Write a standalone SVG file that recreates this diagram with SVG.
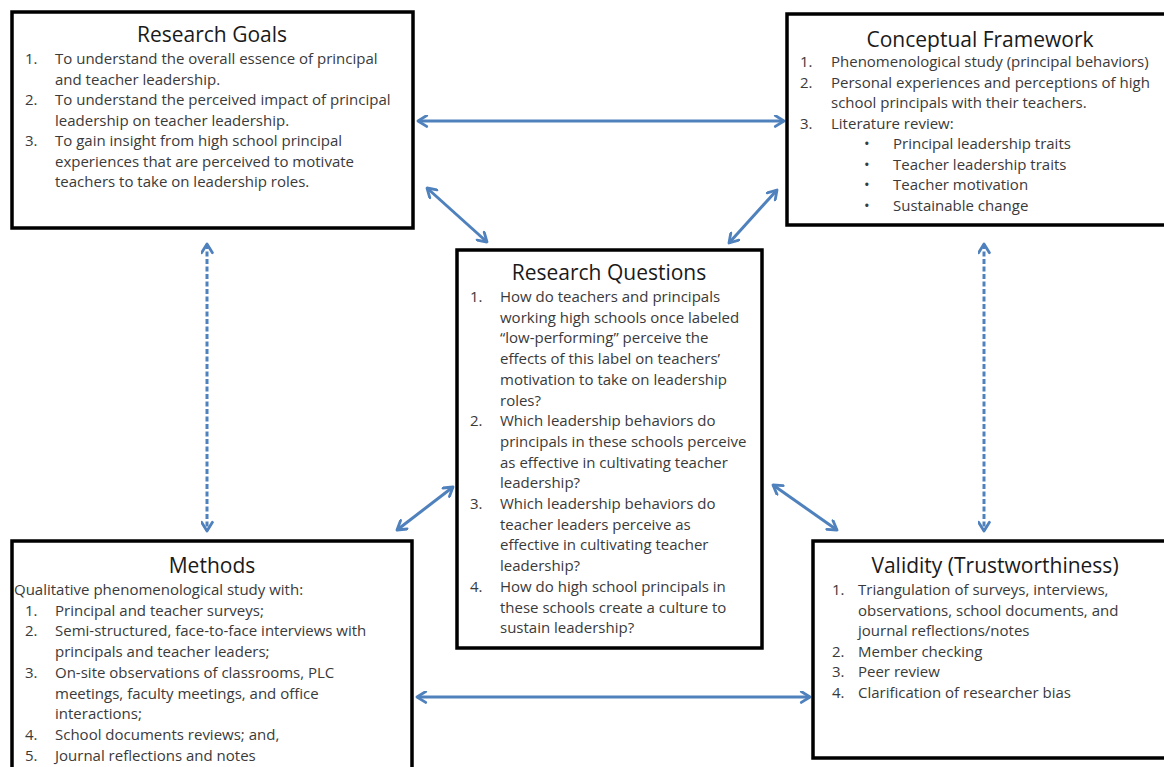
<svg xmlns="http://www.w3.org/2000/svg" width="1164" height="767" viewBox="0 0 1164 767">
<style>
.box{fill:#fff;stroke:#000;stroke-width:3.5}
.title{font-family:"Open Sans","Liberation Sans",sans-serif;font-size:21px;fill:#1a1a1a;text-anchor:middle}
.t{font-family:"Open Sans","Liberation Sans",sans-serif;font-size:15px;fill:#3a3a3a}
.conn{stroke:#4f81bd;stroke-width:3;fill:none;marker-start:url(#ah);marker-end:url(#ah)}
.dash{stroke-dasharray:5 2.5}
</style>
<defs>
<marker id="ah" viewBox="0 0 12 12" refX="10" refY="6" markerWidth="13" markerHeight="13" markerUnits="userSpaceOnUse" orient="auto-start-reverse">
<path d="M2,1 L10,6 L2,11" fill="none" stroke="#4f81bd" stroke-width="2.6" stroke-linecap="round" stroke-linejoin="round"/>
</marker>
</defs>
<rect width="1164" height="767" fill="#fff"/>

<g id="connectors">
<line class="conn" x1="418" y1="121" x2="784" y2="121"/>
<line class="conn" x1="427" y1="188" x2="487" y2="242"/>
<line class="conn" x1="777" y1="190" x2="729" y2="243"/>
<line class="conn" x1="397" y1="530" x2="453" y2="487"/>
<line class="conn" x1="773" y1="485" x2="837" y2="530"/>
<line class="conn dash" x1="207" y1="244" x2="207" y2="531"/>
<line class="conn dash" x1="984" y1="244" x2="984" y2="531"/>
<line class="conn" x1="417" y1="697" x2="810" y2="697"/>
</g>

<g id="research-goals">
<rect class="box" x="12" y="12" width="401" height="216"/>
<text class="title" x="212" y="42">Research Goals</text>
<text class="t" x="25" y="64">1.</text><text class="t" x="55" y="64">To understand the overall essence of principal</text>
<text class="t" x="55" y="84.5">and teacher leadership.</text>
<text class="t" x="25" y="105">2.</text><text class="t" x="55" y="105">To understand the perceived impact of principal</text>
<text class="t" x="55" y="125.5">leadership on teacher leadership.</text>
<text class="t" x="25" y="146">3.</text><text class="t" x="55" y="146">To gain insight from high school principal</text>
<text class="t" x="55" y="166.5">experiences that are perceived to motivate</text>
<text class="t" x="55" y="187">teachers to take on leadership roles.</text>
</g>

<g id="conceptual-framework">
<rect class="box" x="787" y="14" width="390" height="211"/>
<text class="title" x="980" y="47">Conceptual Framework</text>
<text class="t" x="800" y="67">1.</text><text class="t" x="831" y="67">Phenomenological study (principal behaviors)</text>
<text class="t" x="800" y="87.5">2.</text><text class="t" x="831" y="87.5">Personal experiences and perceptions of high</text>
<text class="t" x="831" y="108">school principals with their teachers.</text>
<text class="t" x="800" y="128.5">3.</text><text class="t" x="831" y="128.5">Literature review:</text>
<text class="t" x="864" y="149">•</text><text class="t" x="893" y="149">Principal leadership traits</text>
<text class="t" x="864" y="169.5">•</text><text class="t" x="893" y="169.5">Teacher leadership traits</text>
<text class="t" x="864" y="190">•</text><text class="t" x="893" y="190">Teacher motivation</text>
<text class="t" x="864" y="210.5">•</text><text class="t" x="893" y="210.5">Sustainable change</text>
</g>

<g id="research-questions">
<rect class="box" x="457" y="250" width="305" height="398"/>
<text class="title" x="609" y="280">Research Questions</text>
<text class="t" x="470" y="302">1.</text><text class="t" x="500" y="302">How do teachers and principals</text>
<text class="t" x="500" y="322.7">working high schools once labeled</text>
<text class="t" x="500" y="343.4">“low-performing” perceive the</text>
<text class="t" x="500" y="364.1">effects of this label on teachers’</text>
<text class="t" x="500" y="384.8">motivation to take on leadership</text>
<text class="t" x="500" y="405.5">roles?</text>
<text class="t" x="470" y="426.2">2.</text><text class="t" x="500" y="426.2">Which leadership behaviors do</text>
<text class="t" x="500" y="446.9">principals in these schools perceive</text>
<text class="t" x="500" y="467.6">as effective in cultivating teacher</text>
<text class="t" x="500" y="488.3">leadership?</text>
<text class="t" x="470" y="509">3.</text><text class="t" x="500" y="509">Which leadership behaviors do</text>
<text class="t" x="500" y="529.7">teacher leaders perceive as</text>
<text class="t" x="500" y="550.4">effective in cultivating teacher</text>
<text class="t" x="500" y="571.1">leadership?</text>
<text class="t" x="470" y="591.8">4.</text><text class="t" x="500" y="591.8">How do high school principals in</text>
<text class="t" x="500" y="612.5">these schools create a culture to</text>
<text class="t" x="500" y="633.2">sustain leadership?</text>
</g>

<g id="methods">
<rect class="box" x="12" y="541" width="400" height="240"/>
<text class="title" x="212" y="573">Methods</text>
<text class="t" x="14" y="595">Qualitative phenomenological study with:</text>
<text class="t" x="25" y="615.7">1.</text><text class="t" x="55" y="615.7">Principal and teacher surveys;</text>
<text class="t" x="25" y="636.4">2.</text><text class="t" x="55" y="636.4">Semi-structured, face-to-face interviews with</text>
<text class="t" x="55" y="657.1">principals and teacher leaders;</text>
<text class="t" x="25" y="677.8">3.</text><text class="t" x="55" y="677.8">On-site observations of classrooms, PLC</text>
<text class="t" x="55" y="698.5">meetings, faculty meetings, and office</text>
<text class="t" x="55" y="719.2">interactions;</text>
<text class="t" x="25" y="739.9">4.</text><text class="t" x="55" y="739.9">School documents reviews; and,</text>
<text class="t" x="25" y="760.6">5.</text><text class="t" x="55" y="760.6">Journal reflections and notes</text>
</g>

<g id="validity">
<rect class="box" x="813" y="541" width="364" height="217"/>
<text class="title" x="995" y="573">Validity (Trustworthiness)</text>
<text class="t" x="832" y="595">1.</text><text class="t" x="858" y="595">Triangulation of surveys, interviews,</text>
<text class="t" x="858" y="615.5">observations, school documents, and</text>
<text class="t" x="858" y="636">journal reflections/notes</text>
<text class="t" x="832" y="656.5">2.</text><text class="t" x="858" y="656.5">Member checking</text>
<text class="t" x="832" y="677">3.</text><text class="t" x="858" y="677">Peer review</text>
<text class="t" x="832" y="697.5">4.</text><text class="t" x="858" y="697.5">Clarification of researcher bias</text>
</g>
</svg>
